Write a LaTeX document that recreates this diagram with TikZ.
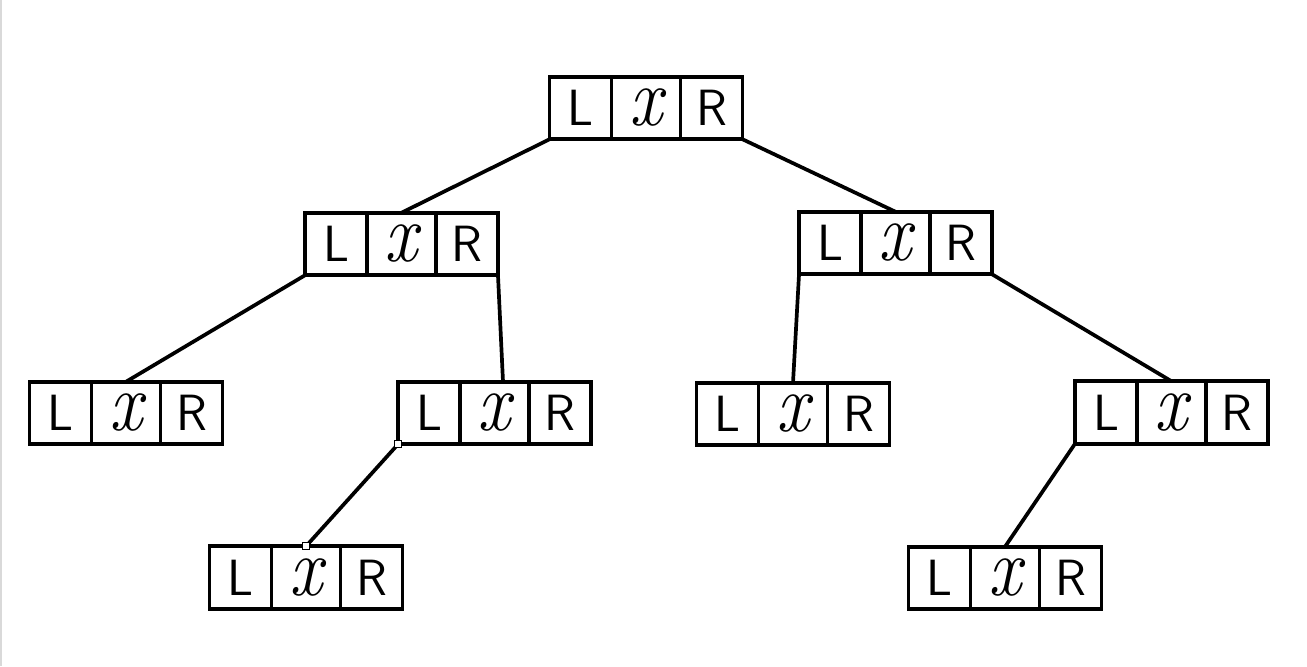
\documentclass[tikz,border=0pt]{standalone}
\usetikzlibrary{positioning}

\tikzset{
	cell/.style={draw, line width=0.076cm, inner sep=0pt, outer sep=0pt, minimum height=1.25cm},
	lxrtext/.style={font=\fontsize{29}{32}\selectfont\sffamily},
	link/.style={line width=0.074cm},
	handle/.style={draw, fill=white, line width=0.4pt, inner sep=0pt, outer sep=0pt, minimum size=0.14cm}
}

% one tree node: name, position of the middle cell
\newcommand{\lxrnode}[2]{%
	\node[cell, minimum width=1.38cm] (#1x) at (#2) {\fontsize{38}{40}\selectfont\itshape\scalebox{1.1}[1.25]{x}};
	\node[cell, lxrtext, minimum width=1.24cm, left=0pt of #1x] (#1l) {L};
	\node[cell, lxrtext, minimum width=1.24cm, right=0pt of #1x] (#1r) {R};
}

\begin{document}
\begin{tikzpicture}[x=0.02cm,y=-0.02cm]
	\useasboundingbox (0,0) rectangle (1307,666);
	\fill[black!15] (0,0) rectangle (2,666);

	\lxrnode{root}{646,108}
	\lxrnode{nl}{401.5,244}
	\lxrnode{nr}{895.5,243}
	\lxrnode{na}{126,413}
	\lxrnode{nb}{494.5,413}
	\lxrnode{nc}{793,414}
	\lxrnode{nd}{1171.5,412.5}
	\lxrnode{ne}{306,577.5}
	\lxrnode{nf}{1005,578}

	\draw[link] (rootl.south west) -- (nlx.north);
	\draw[link] (rootr.south east) -- (nrx.north);
	\draw[link] (nll.south west) -- (nax.north);
	\draw[link] (nlr.south east) -- ([xshift=0.17cm]nbx.north);
	\draw[link] (nrl.south west) -- (ncx.north);
	\draw[link] (nrr.south east) -- (ndx.north);
	\draw[link] (nbl.south west) -- (nex.north);
	\draw[link] (ndl.south west) -- (nfx.north);

	\node[handle] (h1) at (nbl.south west) {};
	\node[handle] (h2) at (nex.north) {};
\end{tikzpicture}
\end{document}
